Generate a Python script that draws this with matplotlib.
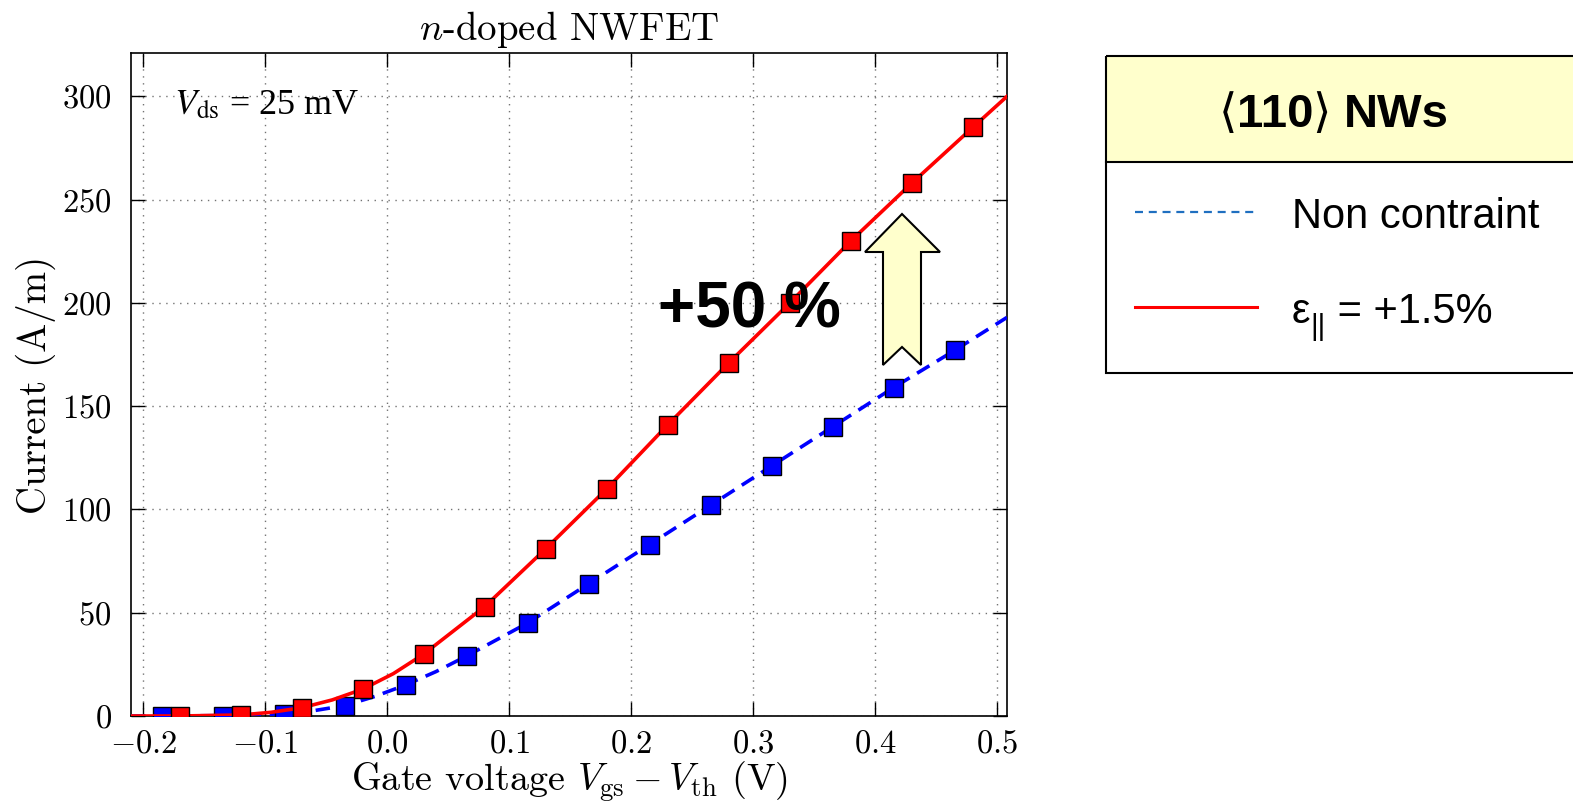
import matplotlib
matplotlib.use("Agg")
import matplotlib.pyplot as plt
from matplotlib.patches import Rectangle, Polygon
from matplotlib.transforms import Affine2D

# ---- data -------------------------------------------------------------
# strained wire, eps_par = +1.5 %  (sampled points)
strained_vg = [-0.17, -0.12, -0.07, -0.02, 0.03, 0.08, 0.13, 0.18,
               0.23, 0.28, 0.33, 0.38, 0.43, 0.48]
strained_i = [0.0, 0.5, 4, 13, 30, 53, 81, 110, 141, 171, 200, 230, 258, 285]

# unstrained wire (sampled points)
relaxed_vg = [-0.185, -0.135, -0.085, -0.035, 0.015, 0.065, 0.115, 0.165,
              0.215, 0.265, 0.315, 0.365, 0.415, 0.465]
relaxed_i = [0.0, 0.2, 1, 5, 15, 29, 45, 64, 83, 102, 121, 140, 159, 177]

# continuous curves
strained_curve_vg = [-0.21, -0.17, -0.12, -0.095, -0.07, -0.045, -0.02, 0.005,
                     0.03, 0.08, 0.13, 0.18, 0.23, 0.28, 0.33, 0.38, 0.43,
                     0.48, 0.508]
strained_curve_i = [0.0, 0.0, 0.5, 1.8, 4, 7.8, 13, 20.5,
                    30, 53, 81, 110, 141, 171, 200, 230, 258, 285, 300]
relaxed_curve_vg = [-0.21, -0.185, -0.135, -0.085, -0.06, -0.035, -0.01,
                    0.015, 0.04, 0.065, 0.115, 0.165, 0.215, 0.265, 0.315,
                    0.365, 0.415, 0.465, 0.508]
relaxed_curve_i = [0.0, 0.0, 0.2, 1, 2.6, 5, 9.5, 15, 21.5, 29, 45, 64, 83,
                   102, 121, 140, 159, 177, 193]

x_ticks = [-0.2, -0.1, 0.0, 0.1, 0.2, 0.3, 0.4, 0.5]
y_ticks = [0, 50, 100, 150, 200, 250, 300]

title = r"$n$-doped NWFET"
x_label = r"Gate voltage $V_{\rm gs} - V_{\rm th}$ (V)"
y_label = "Current (A/m)"
bias_note = r"$V_{\rm ds}$ = 25 mV"
gain_note = "+50 %"
legend_title_parts = ["\u27e8", "110", "\u27e9", "NWs"]
legend_labels = ["Non contraint", "\u03b5", "||", " = +1.5%"]

# ---- style ------------------------------------------------------------
plt.rcParams["font.family"] = "serif"
plt.rcParams["font.serif"] = ["cmr10"]
plt.rcParams["mathtext.fontset"] = "cm"
plt.rcParams["axes.formatter.use_mathtext"] = True

W, H = 1573, 807
fig = plt.figure(figsize=(W / 100, H / 100), dpi=100)

# pixel coordinates (origin top-left) -> figure
pix = Affine2D().scale(1.0 / W, -1.0 / H).translate(0, 1) + fig.transFigure

ax = fig.add_axes([131 / W, 1 - 716 / H, (1007 - 131) / W, (716 - 53) / H])
ax.set_xlim(-0.21, 0.508)
ax.set_ylim(0, 321)

ax.grid(True, color="0.45", linestyle=(0, (1, 4)), linewidth=1.0, zorder=0)
ax.set_axisbelow(True)

ax.plot(relaxed_curve_vg, relaxed_curve_i, color="#0000ff", lw=2.6,
        ls=(0, (4, 2.4)), zorder=3)
ax.plot(relaxed_vg, relaxed_i, ls="none", marker="s", ms=12.5,
        mfc="#0000ff", mec="black", mew=1.0, zorder=4)
ax.plot(strained_curve_vg, strained_curve_i, color="#ff0000", lw=2.6, zorder=5)
ax.plot(strained_vg, strained_i, ls="none", marker="s", ms=12.5,
        mfc="#ff0000", mec="black", mew=1.0, zorder=6)

ax.set_xticks(x_ticks)
ax.set_yticks(y_ticks)
ax.tick_params(direction="in", length=10, width=1.0, top=True, right=True,
               labelsize=23.5)
ax.tick_params(axis="x", pad=10)
ax.tick_params(axis="y", pad=14)
for s in ax.spines.values():
    s.set_linewidth(1.2)

ax.set_title(title, fontsize=28, pad=9)
ax.set_xlabel(x_label, fontsize=27.5, labelpad=0)
ax.set_ylabel(y_label, fontsize=28, labelpad=4)

ax.text(174, 106, bias_note, transform=pix, fontsize=26, ha="left",
        va="center", family="Liberation Serif", math_fontfamily="stix")

# ---- annotation: gain and arrow ---------------------------------------
fig.text(658, 327, gain_note, transform=pix, fontsize=46, fontweight="bold",
         family="Liberation Sans", ha="left", va="baseline", zorder=10)

arrow_px = [(902, 214), (940, 252), (921, 252), (921, 365), (902, 347),
            (883, 365), (883, 252), (865, 252)]
fig.patches.append(Polygon(arrow_px, closed=True, transform=pix,
                           facecolor="#ffffcc", edgecolor="black", lw=1.5,
                           zorder=8))

# ---- legend panel -----------------------------------------------------
fig.patches.append(Rectangle((1106, 56), 600, 106, transform=pix,
                             facecolor="#ffffcc", edgecolor="none", zorder=2))
fig.patches.append(Rectangle((1106, 56), 600, 317, transform=pix,
                             facecolor="none", edgecolor="black", lw=1.5,
                             zorder=3))
fig.lines.append(plt.Line2D([1106, 1580], [162, 162], transform=pix,
                            color="black", lw=1.5, zorder=3))

sans = ["Liberation Sans", "DejaVu Sans"]
fig.text(1219, 127, legend_title_parts[0], transform=pix, fontsize=34,
         family=["DejaVu Sans"], ha="left", va="baseline", zorder=4)
fig.text(1237, 127, legend_title_parts[1], transform=pix, fontsize=34,
         fontweight="bold", family=sans, ha="left", va="baseline", zorder=4)
fig.text(1312, 127, legend_title_parts[2], transform=pix, fontsize=34,
         family=["DejaVu Sans"], ha="left", va="baseline", zorder=4)
fig.text(1344, 127, legend_title_parts[3], transform=pix, fontsize=34,
         fontweight="bold", family=sans, ha="left", va="baseline", zorder=4)

fig.lines.append(plt.Line2D([1135, 1257], [212, 212], transform=pix,
                            color="#1f6fc0", lw=1.6, ls=(0, (3.6, 2.6)),
                            zorder=4))
fig.lines.append(plt.Line2D([1135, 1257], [307, 307], transform=pix,
                            color="#ff0000", lw=2.2, zorder=4))

fig.text(1292, 228, legend_labels[0], transform=pix, fontsize=30,
         family=sans, ha="left", va="baseline", zorder=4)
fig.text(1292, 323, legend_labels[1], transform=pix, fontsize=30,
         family=sans, ha="left", va="baseline", zorder=4)
fig.text(1310, 335, legend_labels[2], transform=pix, fontsize=21,
         family=sans, ha="left", va="baseline", zorder=4)
fig.text(1326, 323, legend_labels[3], transform=pix, fontsize=30,
         family=sans, ha="left", va="baseline", zorder=4)

fig.savefig("out.png", dpi=100)
